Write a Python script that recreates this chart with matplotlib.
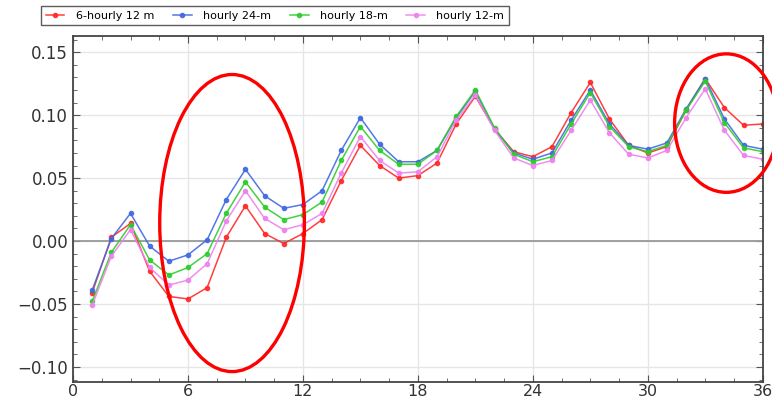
import numpy as np
import matplotlib
matplotlib.use("Agg")
import matplotlib.pyplot as plt
from matplotlib.patches import Ellipse
from matplotlib.ticker import MultipleLocator

hours = np.arange(1, 37)

# 6-hourly 12 m
red = [-0.041, 0.003, 0.014, -0.024, -0.044, -0.046, -0.037, 0.003, 0.028, 0.006,
       -0.002, 0.006, 0.017, 0.048, 0.076, 0.060, 0.050, 0.052, 0.062, 0.093,
       0.115, 0.089, 0.071, 0.067, 0.075, 0.102, 0.126, 0.097, 0.076, 0.070,
       0.075, 0.104, 0.129, 0.106, 0.092, 0.093]
# hourly 24-m
blue = [-0.039, 0.002, 0.022, -0.004, -0.016, -0.011, 0.001, 0.033, 0.057, 0.036,
        0.026, 0.029, 0.040, 0.072, 0.098, 0.077, 0.063, 0.063, 0.072, 0.098,
        0.119, 0.089, 0.070, 0.065, 0.070, 0.096, 0.120, 0.093, 0.076, 0.073,
        0.078, 0.105, 0.129, 0.097, 0.076, 0.073]
# hourly 18-m
green = [-0.048, -0.009, 0.013, -0.015, -0.027, -0.021, -0.010, 0.022, 0.047, 0.027,
         0.017, 0.021, 0.031, 0.064, 0.091, 0.072, 0.061, 0.061, 0.072, 0.099,
         0.120, 0.090, 0.069, 0.063, 0.067, 0.093, 0.118, 0.091, 0.075, 0.071,
         0.076, 0.104, 0.127, 0.094, 0.074, 0.071]
# hourly 12-m
pink = [-0.051, -0.012, 0.009, -0.021, -0.035, -0.031, -0.018, 0.016, 0.040, 0.018,
        0.009, 0.013, 0.022, 0.054, 0.083, 0.064, 0.054, 0.055, 0.067, 0.096,
        0.116, 0.088, 0.066, 0.060, 0.064, 0.088, 0.112, 0.086, 0.069, 0.066,
        0.072, 0.098, 0.121, 0.088, 0.068, 0.065]

labels = ["6-hourly 12 m", "hourly 24-m", "hourly 18-m", "hourly 12-m"]
colors = ["#ff2a2a", "#4169e1", "#2ecc2e", "#ee82ee"]

fig = plt.figure(figsize=(7.72, 4.03), dpi=100)
ax = fig.add_axes([0.0946, 0.052, 0.8934, 0.859])

for y, lab, c in zip([red, blue, green, pink], labels, colors):
    ax.plot(hours, y, color=c, lw=1.1, marker="o", ms=3, label=lab, alpha=0.9)

ax.axhline(0, color="#999999", lw=1.3, zorder=1)
ax.grid(True, color="#e6e6e6", lw=1)
ax.set_axisbelow(True)

ax.set_xlim(0, 36)
ax.set_ylim(-0.112, 0.163)
ax.xaxis.set_major_locator(MultipleLocator(6))
ax.xaxis.set_minor_locator(MultipleLocator(1.5))
ax.yaxis.set_major_locator(MultipleLocator(0.05))
ax.yaxis.set_minor_locator(MultipleLocator(0.01))
ax.yaxis.set_major_formatter(plt.FuncFormatter(lambda v, p: f"{v:.2f}".replace("-", "\u2212")))
ax.tick_params(which="both", direction="in", top=True, right=True, color="#555555")
ax.tick_params(which="major", length=5, labelsize=12, labelcolor="#333333")
ax.tick_params(which="minor", length=3)
ax.tick_params(axis="x", which="major", pad=1.5, labelsize=11.5)
for s in ax.spines.values():
    s.set_color("#444444")
    s.set_linewidth(1.3)

# red highlight ellipses
ax.add_patch(Ellipse((8.3, 0.0143), 7.55, 0.236, fill=False, ec="red", lw=2.4, clip_on=False, zorder=5))
ax.add_patch(Ellipse((34.1, 0.0937), 5.4, 0.110, fill=False, ec="red", lw=2.4, clip_on=False, zorder=5))

fig.legend(loc="upper left", bbox_to_anchor=(0.046, 0.998), ncol=4, fontsize=8,
           frameon=True, fancybox=False, edgecolor="#333333", handlelength=1.7,
           handletextpad=1.0, columnspacing=1.7, borderpad=0.4)

fig.savefig("out.png", dpi=100)
